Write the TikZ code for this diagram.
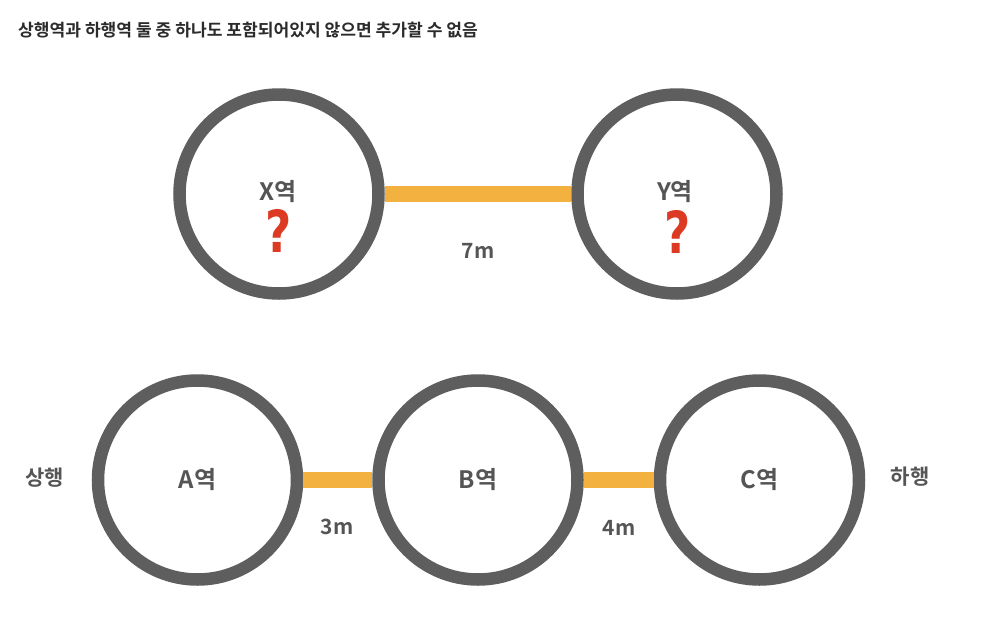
\documentclass[tikz,border=0pt]{standalone}
\usepackage{fontspec}
\setmainfont{Noto Sans CJK KR}[BoldFont={Noto Sans CJK KR Bold}]
\newfontfamily\qfont{DejaVu Sans}[BoldFont={DejaVu Sans Bold}]
\definecolor{ringgray}{HTML}{5E5E5E}
\definecolor{txtgray}{HTML}{555555}
\definecolor{linkorange}{HTML}{F3B23F}
\definecolor{qred}{HTML}{DC3A22}
\definecolor{titlegray}{HTML}{2B2B2B}
\tikzset{
  station/.style={circle, draw=ringgray, line width=12.5pt, minimum size=199pt, inner sep=0pt,
    text=txtgray, font=\fontsize{24}{24}\selectfont\bfseries},
  link/.style={draw=linkorange, line width=16.5pt},
  dist/.style={text=txtgray, inner sep=0pt, font=\fontsize{21}{21}\selectfont\bfseries},
  side/.style={text=txtgray, inner sep=0pt, font=\fontsize{21}{21}\selectfont\bfseries},
  qmark/.style={text=qred, inner sep=0pt, font=\qfont\fontsize{58}{58}\selectfont\bfseries, xscale=0.78},
}
\begin{document}
\begin{tikzpicture}[x=1pt,y=-1pt]
\fill[white] (0,0) rectangle (989,627);
\useasboundingbox (0,0) rectangle (989,627);
\node[anchor=west, inner sep=0pt, text=titlegray, font=\fontsize{17.1}{17.1}\selectfont\bfseries] (title) at (18,30) {상행역과 하행역 둘 중 하나도 포함되어있지 않으면 추가할 수 없음};

\node[station] (X) at (279,194) {};
\node[station] (Y) at (677,194) {};
\draw[link] (X) -- (Y);
\node[text=txtgray, inner sep=0pt, font=\fontsize{24}{24}\selectfont\bfseries] (xl) at (278,192) {X역};
\node[text=txtgray, inner sep=0pt, font=\fontsize{24}{24}\selectfont\bfseries] (yl) at (675,192) {Y역};
\node[qmark] (xq) at (279,231) {?};
\node[qmark] (yq) at (678,232) {?};
\node[dist] (d7) at (478,251) {7m};

\node[station] (A) at (197.5,480) {A역};
\node[station] (B) at (478,480) {B역};
\node[station] (C) at (759.5,480) {C역};
\draw[link] (A) -- (B);
\draw[link] (B) -- (C);
\node[dist] (d3) at (337,527) {3m};
\node[dist] (d4) at (619,528) {4m};
\node[side] (up) at (45,478) {상행};
\node[side] (down) at (910,477) {하행};
\end{tikzpicture}
\end{document}
